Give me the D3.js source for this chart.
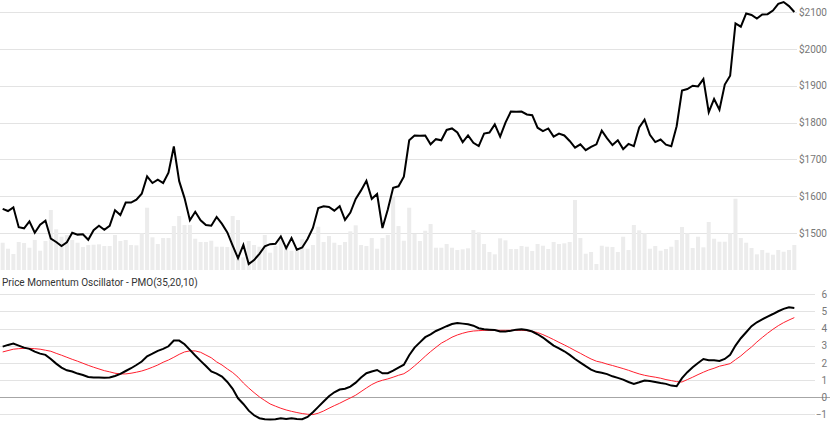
<!DOCTYPE html>
<html>
<head>
<meta charset="utf-8">
<script src="https://cdn.jsdelivr.net/npm/d3@7"></script>
<style>
  html, body { margin: 0; padding: 0; background: #fff; }
  svg { display: block; font-family: Roboto, "Noto Sans", Arial, sans-serif; }
</style>
</head>
<body>
<svg id="chart" width="830" height="423"></svg>
<script>
// ---- data ----
const price = [
  1566,1560,1570,1516,1513,1532,1501,1523,1534,1485,
  1476,1465,1475,1501,1496,1497,1482,1508,1520,1509,
  1520,1562,1549,1583,1583,1591,1607,1654,1636,1645,
  1636,1664,1735,1641,1595,1535,1558,1535,1522,1520,
  1544,1525,1502,1466,1432,1468,1416,1427,1444,1464,
  1470,1471,1491,1459,1487,1455,1461,1484,1514,1568,
  1573,1571,1561,1573,1536,1556,1593,1616,1642,1593,
  1606,1514,1564,1623,1627,1653,1752,1765,1764,1765,
  1741,1755,1752,1780,1784,1773,1747,1765,1745,1736,
  1770,1773,1795,1762,1800,1830,1829,1830,1822,1820,
  1786,1777,1784,1762,1770,1765,1750,1732,1741,1725,
  1734,1741,1778,1757,1739,1752,1728,1742,1736,1787,
  1808,1767,1747,1754,1740,1736,1790,1887,1891,1900,
  1898,1918,1828,1864,1835,1903,1927,2069,2060,2096,
  2092,2082,2093,2094,2104,2122,2127,2116,2100
];
const volume = [
  27.3,21.3,16,28,27,22.3,30,19.3,29,60,
  40.7,33.3,35,30,27.3,23,25,25.3,25.7,24,
  24,35,29,30,25,24.7,36.7,62.3,32.7,26,
  32,32,44,54,45,45,31.3,28,28,29.3,
  23.3,23.3,23,54,50,12.7,29,25,23.3,35,
  17.3,24.3,30.7,23.3,19.3,21.3,30.7,21.3,25,43.3,
  28,34,27.3,25,28,38.7,44.7,25,24,32,
  21.3,32,35,74,44,29.3,62.3,36,29,39.3,
  46,22.3,22.3,26,22.3,20,20.7,21.7,40,37.7,
  26,18,15.7,31.7,29.7,21,21,24,23.3,19,
  26,24.3,21,28,26,26.7,28,70,32,16.3,
  18,6,24.3,23.3,23,18,33.3,20,45,39.7,
  36.7,21.3,24,19.3,21,23.3,30,43,36.7,22,
  33.3,22.7,48,31.3,28.3,28.3,36.7,71.3,32,27.3,
  22,15.7,20,17.3,15.3,20,18.3,20,25
];
const pmo = [
  2.95,3.05,3.13,3.01,2.89,2.82,2.66,2.54,2.47,2.23,
  1.96,1.73,1.57,1.50,1.38,1.30,1.18,1.15,1.15,1.14,
  1.15,1.24,1.36,1.53,1.69,1.88,2.08,2.39,2.54,2.70,
  2.82,2.97,3.30,3.30,3.09,2.76,2.43,2.12,1.82,1.50,
  1.38,1.20,0.89,0.49,-0.06,-0.39,-0.78,-1.05,-1.22,-1.28,
  -1.30,-1.28,-1.22,-1.26,-1.22,-1.26,-1.28,-1.15,-0.87,-0.56,
  -0.25,0.06,0.29,0.45,0.50,0.62,0.85,1.15,1.40,1.50,
  1.59,1.40,1.40,1.55,1.73,1.90,2.45,2.89,3.20,3.50,
  3.67,3.86,4.00,4.14,4.27,4.33,4.29,4.25,4.17,4.02,
  3.96,3.94,3.92,3.83,3.83,3.88,3.94,3.96,3.92,3.83,
  3.67,3.48,3.24,3.01,2.85,2.68,2.47,2.23,2.02,1.81,
  1.61,1.48,1.43,1.35,1.22,1.13,1.03,0.89,0.78,0.87,
  0.97,0.95,0.89,0.83,0.78,0.68,0.64,1.11,1.46,1.75,
  2.00,2.23,2.16,2.16,2.12,2.23,2.47,3.01,3.44,3.79,
  4.14,4.37,4.54,4.70,4.85,5.01,5.15,5.24,5.20
];
const signal = [
  2.64,2.72,2.80,2.83,2.85,2.85,2.83,2.80,2.74,2.68,
  2.56,2.45,2.33,2.21,2.10,1.98,1.86,1.75,1.65,1.55,
  1.48,1.40,1.36,1.36,1.40,1.46,1.53,1.63,1.75,1.88,
  2.04,2.17,2.33,2.50,2.64,2.70,2.70,2.62,2.46,2.30,
  2.06,1.88,1.65,1.44,1.17,0.83,0.54,0.27,0.02,-0.19,
  -0.39,-0.52,-0.64,-0.74,-0.82,-0.89,-0.95,-0.99,-1.01,-0.93,
  -0.80,-0.64,-0.49,-0.35,-0.19,-0.04,0.12,0.33,0.54,0.74,
  0.89,0.99,1.07,1.17,1.28,1.37,1.57,1.83,2.10,2.39,
  2.66,2.91,3.15,3.32,3.50,3.63,3.73,3.81,3.86,3.88,
  3.90,3.90,3.90,3.90,3.90,3.90,3.90,3.90,3.88,3.84,
  3.77,3.65,3.51,3.36,3.20,3.05,2.89,2.72,2.56,2.39,
  2.23,2.10,2.03,1.93,1.85,1.76,1.67,1.57,1.46,1.36,
  1.28,1.22,1.17,1.11,1.03,0.97,0.91,0.89,1.03,1.17,
  1.32,1.46,1.59,1.69,1.81,1.88,1.96,2.19,2.41,2.68,
  2.93,3.22,3.48,3.73,3.96,4.17,4.35,4.50,4.64
];
const priceTicks = [1500, 1600, 1700, 1800, 1900, 2000, 2100];
const pmoTicks = [-1, 0, 1, 2, 3, 4, 5, 6];
const title = "Price Momentum Oscillator - PMO(35,20,10)";

// ---- drawing ----
const svg = d3.select("#chart");
const idx = d3.range(price.length);

const x = d3.scaleBand().domain(idx).range([0, 797]).paddingInner(0.25).paddingOuter(0.125);
const cx = i => x(i) + x.bandwidth() / 2;

// price panel
const yP = d3.scaleLinear().domain([1400, 2132.5]).range([270, 0]);
const yV = d3.scaleLinear().domain([0, d3.max(volume) * 3.65]).range([270, 0]);

// pmo panel
const yO = d3.scaleLinear().domain([-1.5, 6.5]).range([423, 285.7]);

// price grid
const gP = svg.append("g");
gP.selectAll("line").data(priceTicks).join("line")
  .attr("x1", 0).attr("x2", 797)
  .attr("y1", d => Math.round(yP(d)) + 0.5).attr("y2", d => Math.round(yP(d)) + 0.5)
  .attr("stroke", "#e3e3e3").attr("stroke-width", 1);

// volume bars
svg.append("g").selectAll("rect").data(volume).join("rect")
  .attr("x", (d, i) => x(i))
  .attr("width", x.bandwidth())
  .attr("y", d => yV(d))
  .attr("height", d => 270 - yV(d))
  .attr("fill", "#ececec");

// price line
svg.append("path")
  .datum(price)
  .attr("fill", "none")
  .attr("stroke", "#000")
  .attr("stroke-width", 2)
  .attr("d", d3.line().x((d, i) => cx(i)).y(d => yP(d)));

// price axis labels
const axP = d3.axisRight(yP).tickValues(priceTicks).tickFormat(d => "$" + d).tickSize(0);
const gAxP = svg.append("g").attr("transform", "translate(827,0)").call(axP);
gAxP.select(".domain").remove();
gAxP.selectAll("text").attr("text-anchor", "end").attr("x", 0)
  .attr("fill", "#777").style("font-size", "10px").style("font-family", "Roboto, Arial, sans-serif");

// title
svg.append("text")
  .attr("x", 2).attr("y", 286)
  .attr("fill", "#333")
  .style("font-size", "10px")
  .text(title);

// pmo grid
svg.append("g").selectAll("line").data(pmoTicks.filter(d => d !== 0)).join("line")
  .attr("x1", 0).attr("x2", 815)
  .attr("y1", d => Math.round(yO(d)) + 0.5).attr("y2", d => Math.round(yO(d)) + 0.5)
  .attr("stroke", "#e3e3e3").attr("stroke-width", 1);

// zero line
svg.append("line")
  .attr("x1", 0).attr("x2", 830)
  .attr("y1", Math.round(yO(0)) + 0.5).attr("y2", Math.round(yO(0)) + 0.5)
  .attr("stroke", "#a6a6a6").attr("stroke-width", 1);

// pmo axis labels
const axO = d3.axisRight(yO).tickValues(pmoTicks).tickFormat(d3.format("d")).tickSize(0);
const gAxO = svg.append("g").attr("transform", "translate(827,0)").call(axO);
gAxO.select(".domain").remove();
gAxO.selectAll("text").attr("text-anchor", "end").attr("x", 0)
  .attr("fill", "#777").style("font-size", "10px").style("font-family", "Roboto, Arial, sans-serif");

// signal line (red)
svg.append("path")
  .datum(signal)
  .attr("fill", "none")
  .attr("stroke", "#ff1f2e")
  .attr("stroke-width", 1)
  .attr("d", d3.line().x((d, i) => cx(i)).y(d => yO(d)));

// pmo line (black)
svg.append("path")
  .datum(pmo)
  .attr("fill", "none")
  .attr("stroke", "#000")
  .attr("stroke-width", 2)
  .attr("d", d3.line().x((d, i) => cx(i)).y(d => yO(d)));
</script>
</body>
</html>
